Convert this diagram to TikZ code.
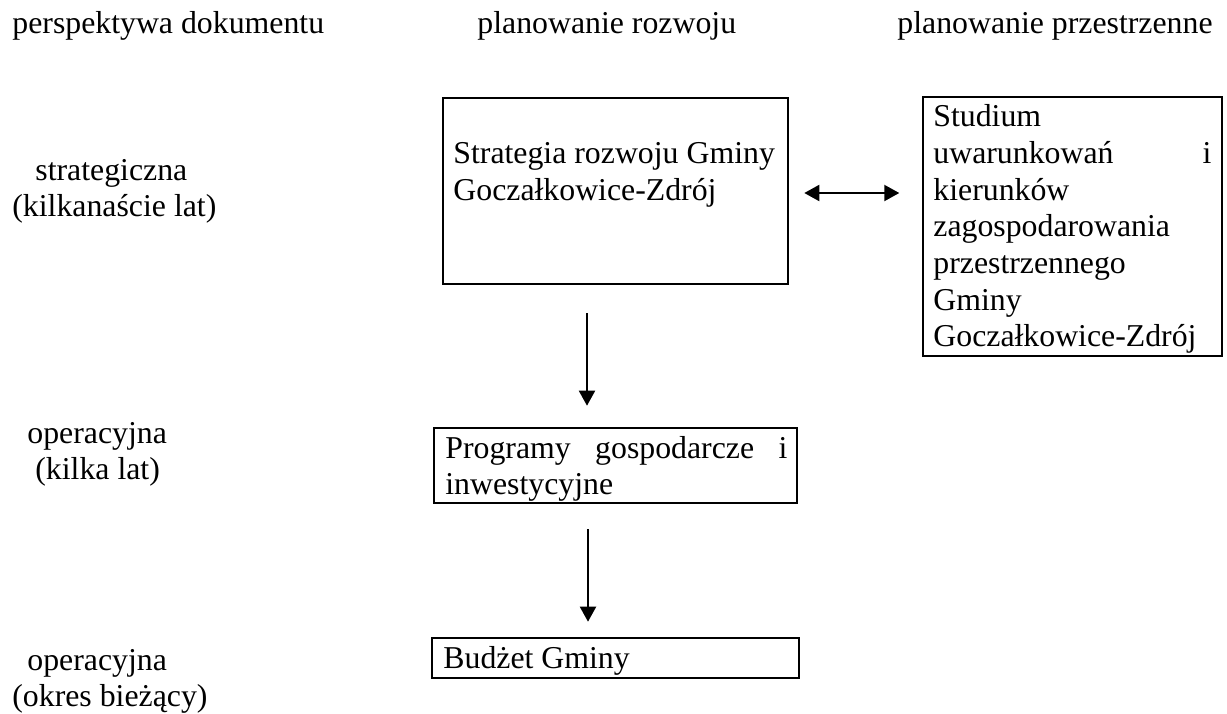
\documentclass[tikz,border=0pt]{standalone}
\usepackage{fontspec}
\setmainfont{Liberation Serif}
\usetikzlibrary{arrows.meta}
\begin{document}
\begin{tikzpicture}[x=0.5pt,y=-0.5pt,
  txt/.style={font=\fontsize{15.9pt}{18pt}\selectfont, inner sep=0pt, anchor=base west},
  box/.style={draw, line width=1.3pt, inner sep=0pt},
  arr/.style={line width=1pt, -{Triangle[length=7.5pt,width=8pt]}},
  darr/.style={line width=1pt, {Triangle[length=7.5pt,width=8pt]}-{Triangle[length=7.5pt,width=8pt]}}]
\useasboundingbox (0,0) rectangle (1227,713);

% headers
\node[txt] (h1) at (12,33) {perspektywa dokumentu};
\node[txt] (h2) at (477,33) {planowanie rozwoju};
\node[txt] (h3) at (897,33) {planowanie przestrzenne};

% left labels
\node[txt] (l1a) at (35,180) {strategiczna};
\node[txt] (l1b) at (12,216.5) {(kilkanaście lat)};
\node[txt] (l2a) at (27,443) {operacyjna};
\node[txt] (l2b) at (35,479) {(kilka lat)};
\node[txt] (l3a) at (27,670) {operacyjna};
\node[txt] (l3b) at (12,706) {(okres bieżący)};

% boxes
\node[box, minimum width=172.5pt, minimum height=93pt] (strat) at (615.5,191) {};
\node[box, minimum width=149.5pt, minimum height=129.5pt] (stud) at (1072.5,226.5) {};
\node[box, minimum width=181.5pt, minimum height=37.5pt] (prog) at (615.5,465.5) {};
\node[box, minimum width=183.5pt, minimum height=20pt] (budz) at (615.5,658) {};

% box texts
\node[txt] (st1) at (453,163.3) {Strategia rozwoju Gminy};
\node[txt] (st2) at (453,200) {Goczałkowice-Zdrój};

\node[txt] (s1) at (933,126.7) {Studium};
\node[txt] (s2) at (933,163.3) {\hbox to 139pt{uwarunkowań\hfill i}};
\node[txt] (s3) at (933,200) {kierunków};
\node[txt] (s4) at (933,236.7) {zagospodarowania};
\node[txt] (s5) at (933,273.3) {przestrzennego};
\node[txt] (s6) at (933,310) {Gminy};
\node[txt] (s7) at (933,346.7) {Goczałkowice-Zdrój};

\node[txt] (p1) at (445,458) {\hbox to 171pt{Programy\hfill gospodarcze\hfill i}};
\node[txt] (p2) at (445,494) {inwestycyjne};

\node[txt] (b1) at (443,668) {Budżet Gminy};

% connectors
\draw[arr] ([xshift=-14.25pt,yshift=-14pt]strat.south) -- ([xshift=-14.25pt,yshift=10.5pt]prog.north);
\draw[arr] ([xshift=-13.75pt,yshift=-12.5pt]prog.south) -- ([xshift=-13.75pt,yshift=7.5pt]budz.north);
\draw[darr] ([xshift=7.5pt,yshift=-1pt]strat.east) -- +(95,0);
\end{tikzpicture}
\end{document}
